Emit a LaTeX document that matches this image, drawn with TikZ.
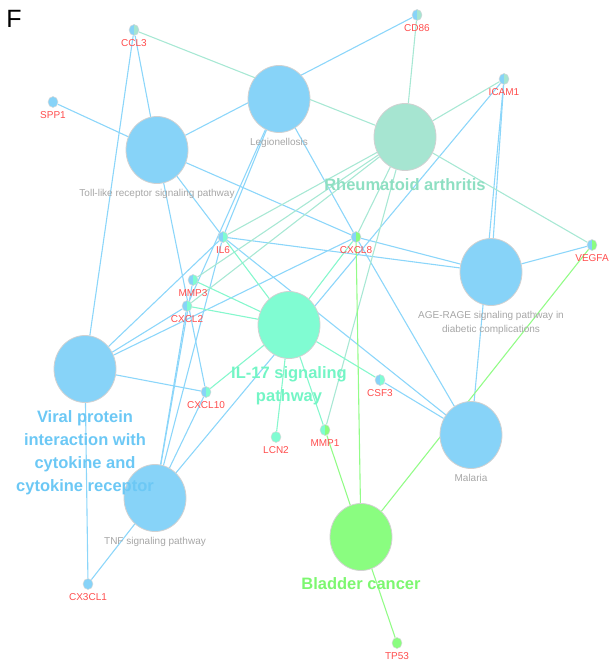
\documentclass[tikz,border=0pt]{standalone}
\usepackage{fontspec}
\setmainfont{Liberation Sans}
\usepackage{tikz}
\usetikzlibrary{shapes.geometric,backgrounds}
\definecolor{termblue}{HTML}{87D3F8}
\definecolor{ramint}{HTML}{A6E5D1}
\definecolor{ilaqua}{HTML}{80FCD2}
\definecolor{bladgreen}{HTML}{8AFD80}
\definecolor{genered}{HTML}{FF4D4D}
\definecolor{termgray}{HTML}{A6A6A6}
\definecolor{edgeblue}{HTML}{8CD6FA}
\definecolor{edgemint}{HTML}{A8E8D4}
\definecolor{edgeaqua}{HTML}{86F7CD}
\definecolor{edgegreen}{HTML}{93FC88}
\definecolor{ratext}{HTML}{8EDFC2}
\definecolor{iltext}{HTML}{73F5C5}
\definecolor{viraltext}{HTML}{6CC8F5}
\definecolor{bladtext}{HTML}{7DF770}

\begin{document}
\begin{tikzpicture}[x=1pt, y=-1pt,
		term/.style={ellipse, draw=black!18, line width=0.8pt, minimum width=62pt, minimum height=67pt, inner sep=0pt},
		gene/.style={ellipse, draw=black!15, line width=0.5pt, minimum width=10pt, minimum height=11pt, inner sep=0pt},
		duo/.style 2 args={fill=#1, path picture={\fill[#2] (path picture bounding box.north) rectangle (path picture bounding box.south east);}},
		glabel/.style={text=genered, font=\fontsize{10}{11}\selectfont, inner sep=0pt, label distance=4pt},
		tlabel/.style={text=termgray, font=\fontsize{10}{14}\selectfont, inner sep=0pt, label distance=5pt, align=center},
		biglabel/.style={font=\fontsize{16.5}{23}\selectfont\bfseries, inner sep=0pt, label distance=7.5pt, align=center},
		blueedge/.style={draw=edgeblue, line width=1.1pt},
		mintedge/.style={draw=edgemint, line width=1.1pt},
		aquaedge/.style={draw=edgeaqua, line width=1.1pt},
		greenedge/.style={draw=edgegreen, line width=1.1pt},
		panel/.style={font=\fontsize{25}{25}\selectfont, inner sep=0pt}
	]
	\useasboundingbox (0,0) rectangle (609,663);
	\node[panel] (fig) at (14,18.5) {F};
	\node[term, fill=termblue, label={[tlabel]below:Legionellosis}] (legio) at (279,99) {};
	\node[term, fill=termblue, label={[tlabel]below:Toll-like receptor signaling pathway}] (toll) at (157,150) {};
	\node[term, fill=ramint, label={[biglabel, text=ratext]below:Rheumatoid arthritis}] (ra) at (405,137) {};
	\node[term, fill=termblue, label={[tlabel]below:AGE-RAGE signaling pathway in\\diabetic complications}] (agerage) at (491,272) {};
	\node[term, fill=ilaqua, label={[biglabel, text=iltext]below:IL-17 signaling\\pathway}] (il17) at (289,325) {};
	\node[term, fill=termblue, label={[tlabel]below:Malaria}] (malaria) at (471,435) {};
	\node[term, fill=termblue, label={[tlabel]below:TNF signaling pathway}] (tnf) at (155,498) {};
	\node[term, fill=termblue, label={[biglabel, text=viraltext]below:Viral protein\\interaction with\\cytokine and\\cytokine receptor}] (viral) at (85,369) {};
	\node[term, fill=bladgreen, label={[biglabel, text=bladtext, label distance=6pt]below:Bladder cancer}] (bladder) at (361,537) {};

	\node[gene, duo={termblue}{ramint}, label={[glabel]below:CCL3}] (ccl3) at (134,30) {};
	\node[gene, duo={termblue}{ramint}, label={[glabel]below:CD86}] (cd86) at (417,15) {};
	\node[gene, fill=termblue, label={[glabel]below:SPP1}] (spp1) at (53,102) {};
	\node[gene, duo={termblue}{ramint}, label={[glabel]below:ICAM1}] (icam1) at (504,79) {};
	\node[gene, duo={termblue}{ilaqua}, label={[glabel]below:IL6}] (il6) at (223,237) {};
	\node[gene, duo={termblue}{bladgreen}, label={[glabel]below:CXCL8}] (cxcl8) at (356,237) {};
	\node[gene, duo={termblue}{bladgreen}, label={[glabel]below:VEGFA}] (vegfa) at (592,245) {};
	\node[gene, duo={termblue}{ilaqua}, label={[glabel]below:MMP3}] (mmp3) at (193,280) {};
	\node[gene, duo={termblue}{ilaqua}, label={[glabel]below:CXCL2}] (cxcl2) at (187,306) {};
	\node[gene, duo={termblue}{ilaqua}, label={[glabel]below:CXCL10}] (cxcl10) at (206,392) {};
	\node[gene, duo={termblue}{ilaqua}, label={[glabel]below:CSF3}] (csf3) at (380,380) {};
	\node[gene, fill=ilaqua, label={[glabel]below:LCN2}] (lcn2) at (276,437) {};
	\node[gene, duo={ilaqua}{bladgreen}, label={[glabel]below:MMP1}] (mmp1) at (325,430) {};
	\node[gene, fill=termblue, label={[glabel]below:CX3CL1}] (cx3cl1) at (88,584) {};
	\node[gene, fill=bladgreen, label={[glabel]below:TP53}] (tp53) at (397,643) {};

	\begin{scope}[on background layer]
		\draw[blueedge] (toll) -- (spp1);
		\draw[blueedge] (toll) -- (ccl3);
		\draw[blueedge] (toll) -- (cd86);
		\draw[blueedge] (toll) -- (il6);
		\draw[blueedge] (toll) -- (cxcl8);
		\draw[blueedge] (toll) -- (cxcl10);
		\draw[blueedge] (legio) -- (il6);
		\draw[blueedge] (legio) -- (cxcl8);
		\draw[blueedge] (legio) -- (cxcl2);
		\draw[blueedge] (agerage) -- (il6);
		\draw[blueedge] (agerage) -- (cxcl8);
		\draw[blueedge] (agerage) -- (icam1);
		\draw[blueedge] (agerage) -- (vegfa);
		\draw[blueedge] (malaria) -- (il6);
		\draw[blueedge] (malaria) -- (cxcl8);
		\draw[blueedge] (malaria) -- (icam1);
		\draw[blueedge] (malaria) -- (csf3);
		\draw[blueedge] (viral) -- (ccl3);
		\draw[blueedge] (viral) -- (il6);
		\draw[blueedge] (viral) -- (cxcl8);
		\draw[blueedge] (viral) -- (cxcl2);
		\draw[blueedge] (viral) -- (cxcl10);
		\draw[blueedge] (viral) -- (cx3cl1);
		\draw[blueedge] (tnf) -- (il6);
		\draw[blueedge] (tnf) -- (mmp3);
		\draw[blueedge] (tnf) -- (cxcl2);
		\draw[blueedge] (tnf) -- (cxcl10);
		\draw[blueedge] (tnf) -- (icam1);
		\draw[blueedge] (tnf) -- (cx3cl1);
		\draw[mintedge] (ra) -- (ccl3);
		\draw[mintedge] (ra) -- (cd86);
		\draw[mintedge] (ra) -- (icam1);
		\draw[mintedge] (ra) -- (vegfa);
		\draw[mintedge] (ra) -- (il6);
		\draw[mintedge] (ra) -- (cxcl8);
		\draw[mintedge] (ra) -- (mmp3);
		\draw[mintedge] (ra) -- (cxcl2);
		\draw[mintedge] (ra) -- (mmp1);
		\draw[aquaedge] (il17) -- (il6);
		\draw[aquaedge] (il17) -- (cxcl8);
		\draw[aquaedge] (il17) -- (mmp3);
		\draw[aquaedge] (il17) -- (cxcl2);
		\draw[aquaedge] (il17) -- (cxcl10);
		\draw[aquaedge] (il17) -- (csf3);
		\draw[aquaedge] (il17) -- (lcn2);
		\draw[aquaedge] (il17) -- (mmp1);
		\draw[greenedge] (bladder) -- (cxcl8);
		\draw[greenedge] (bladder) -- (mmp1);
		\draw[greenedge] (bladder) -- (vegfa);
		\draw[greenedge] (bladder) -- (tp53);
	\end{scope}
\end{tikzpicture}
\end{document}
